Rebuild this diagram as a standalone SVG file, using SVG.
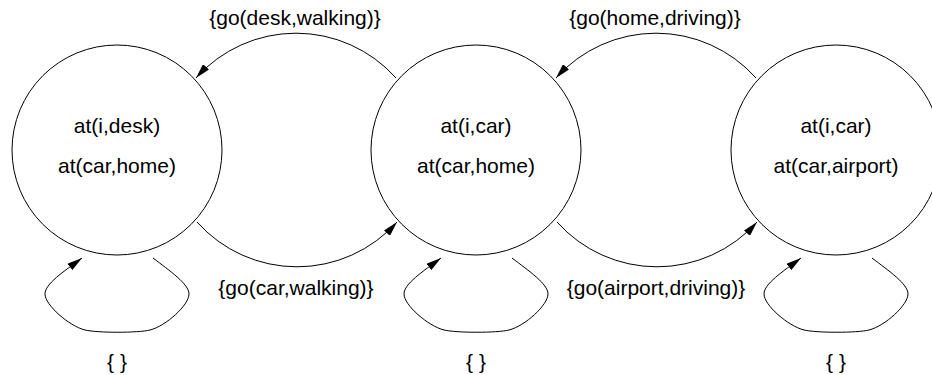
<svg xmlns="http://www.w3.org/2000/svg" width="932" height="375" viewBox="0 0 932 375">
<defs>
<marker id="arr" viewBox="0 0 15 8" refX="15" refY="4" markerWidth="15" markerHeight="8" markerUnits="userSpaceOnUse" orient="auto">
<path d="M0,0 L15,4 L0,8 z" fill="#000"/>
</marker>
<style>
.st{fill:#fff;stroke:#000;stroke-width:1}
.e{fill:none;stroke:#000;stroke-width:1;marker-end:url(#arr)}
text{font-family:"Liberation Sans",Arial,Helvetica,sans-serif;font-size:21px;fill:#000;text-anchor:middle}
</style>
</defs>
<g id="connectors">
<path class="e" d="M396,78 A134,134 0 0 0 196,78"/>
<path class="e" d="M197,222 A134,134 0 0 0 397,222"/>
<path class="e" d="M756,78 A134,134 0 0 0 556,78"/>
<path class="e" d="M557,222 A134,134 0 0 0 757,222"/>
<path class="e" d="M153,258 C170,271 189,284 189,294 C189,305 166,326 150,330 C138,333 98,333 85,330 C69,326 45,305 45,294 C45,284 63,272 82,258"/>
<path class="e" d="M512,258 C529,271 548,284 548,294 C548,305 525,326 509,330 C497,333 457,333 444,330 C428,326 404,305 404,294 C404,284 422,272 441,258"/>
<path class="e" d="M872,258 C889,271 908,284 908,294 C908,305 885,326 869,330 C857,333 817,333 804,330 C788,326 764,305 764,294 C764,284 782,272 801,258"/>
<text x="295" y="25">{go(desk,walking)}</text>
<text x="296" y="295">{go(car,walking)}</text>
<text x="655" y="25">{go(home,driving)}</text>
<text x="656" y="295">{go(airport,driving)}</text>
<text x="117" y="369">{ }</text>
<text x="476" y="369">{ }</text>
<text x="836" y="369">{ }</text>
</g>
<g id="s1">
<circle class="st" cx="117" cy="150" r="105"/>
<text x="117" y="133">at(i,desk)</text>
<text x="117" y="173">at(car,home)</text>
</g>
<g id="s2">
<circle class="st" cx="476" cy="150" r="105"/>
<text x="476" y="133">at(i,car)</text>
<text x="476" y="173">at(car,home)</text>
</g>
<g id="s3">
<circle class="st" cx="836" cy="150" r="105"/>
<text x="836" y="133">at(i,car)</text>
<text x="836" y="173">at(car,airport)</text>
</g>
</svg>
